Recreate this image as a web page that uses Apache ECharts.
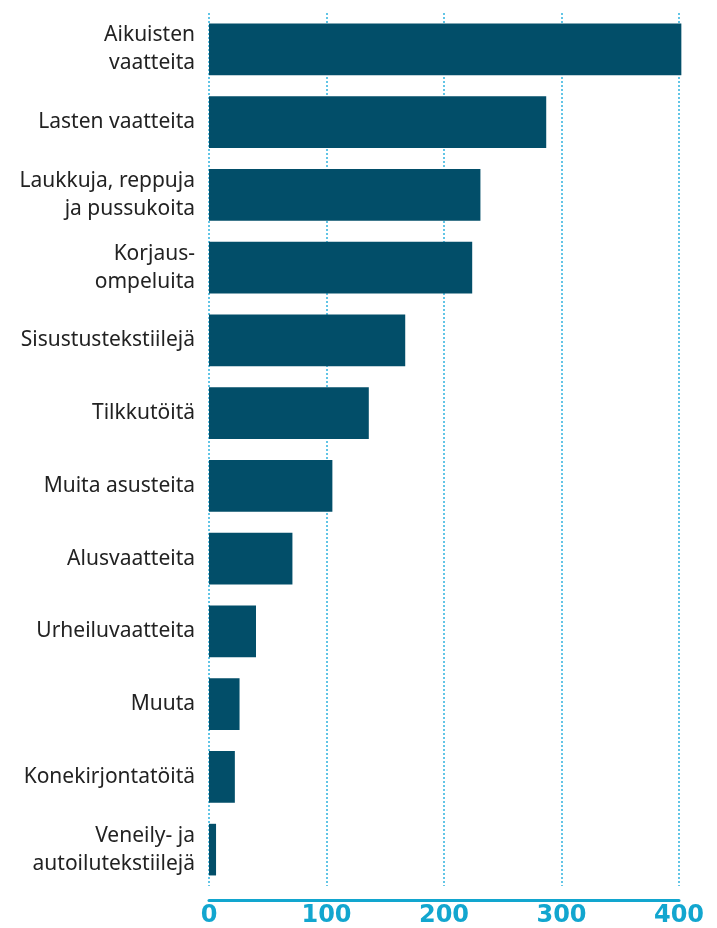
<!DOCTYPE html>
<html>
<head>
<meta charset="utf-8">
<script src="https://cdn.jsdelivr.net/npm/echarts@6/dist/echarts.min.js"></script>
<style>
  html, body { margin: 0; padding: 0; background: #fff; }
  #chart { width: 717px; height: 928px; }
</style>
</head>
<body>
<div id="chart"></div>
<script>
// luokat ylhäältä alas
var categories = [
  'Aikuisten\nvaatteita',
  'Lasten vaatteita',
  'Laukkuja, reppuja\nja pussukoita',
  'Korjaus-\nompeluita',
  'Sisustustekstiilejä',
  'Tilkkutöitä',
  'Muita asusteita',
  'Alusvaatteita',
  'Urheiluvaatteita',
  'Muuta',
  'Konekirjontatöitä',
  'Veneily- ja\nautoilutekstiilejä'
];
var values = [402, 287, 231, 224, 167, 136, 105, 71, 40, 26, 22, 6];
var xTicks = [0, 100, 200, 300, 400];

var chart = echarts.init(document.getElementById('chart'));
chart.setOption({
  animation: false,
  grid: { left: 209, right: 38, top: 13, bottom: 42 },
  xAxis: {
    type: 'value',
    min: xTicks[0],
    max: xTicks[xTicks.length - 1],
    interval: 100,
    offset: 14,
    axisLine: { show: true, lineStyle: { color: '#12a6cf', width: 3 } },
    axisTick: { show: false },
    axisLabel: {
      color: '#12a6cf',
      fontFamily: 'DejaVu Sans',
      fontWeight: 'bold',
      fontSize: 24,
      margin: 4
    },
    splitLine: { show: true, lineStyle: { color: '#2fb3de', width: 1.5, type: [2, 2] } }
  },
  yAxis: {
    type: 'category',
    inverse: true,
    data: categories,
    axisLine: { show: false },
    axisTick: { show: false },
    axisLabel: {
      color: '#222',
      fontFamily: 'Noto Sans',
      fontSize: 21,
      lineHeight: 28,
      margin: 14,
      align: 'right'
    }
  },
  series: [{
    type: 'bar',
    data: values,
    clip: false,
    barCategoryGap: '29%',
    itemStyle: { color: '#024e69' }
  }]
});
</script>
</body>
</html>
